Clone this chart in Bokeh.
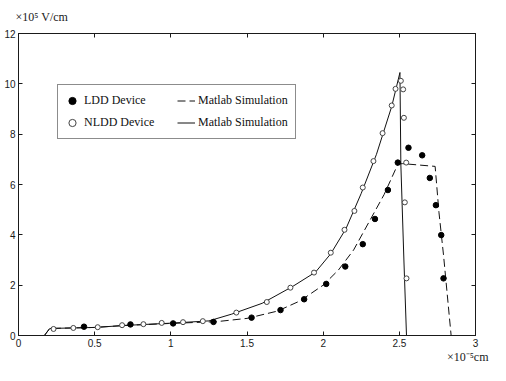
from bokeh.plotting import figure
from bokeh.models import (Range1d, LinearAxis, FixedTicker, Legend, LegendItem, Title,
                          CustomLabelingPolicy)
from bokeh.embed import file_html
from bokeh.resources import INLINE

# ---- data (x in 1e-5 cm, y in 1e5 V/cm) ----
nldd_x = [0.23, 0.36, 0.52, 0.68, 0.82, 0.94, 1.08, 1.21, 1.43, 1.63, 1.785, 1.94, 2.05,
          2.14, 2.205, 2.26, 2.33, 2.39, 2.45, 2.475, 2.51, 2.525, 2.53, 2.545, 2.536, 2.547]
nldd_y = [0.26, 0.30, 0.33, 0.41, 0.45, 0.50, 0.53, 0.57, 0.91, 1.33, 1.90, 2.50, 3.29,
          4.20, 4.95, 5.88, 6.93, 8.04, 9.14, 9.80, 10.12, 9.78, 8.65, 6.87, 5.29, 2.27]

ldd_x = [0.43, 0.735, 1.015, 1.28, 1.53, 1.72, 1.875, 2.02, 2.145, 2.26, 2.34, 2.425,
         2.49, 2.56, 2.65, 2.70, 2.74, 2.775, 2.79]
ldd_y = [0.35, 0.44, 0.48, 0.54, 0.71, 1.01, 1.44, 2.05, 2.74, 3.63, 4.63, 5.78,
         6.87, 7.46, 7.16, 6.26, 5.18, 3.99, 2.27]

nsim_x = [0.17, 0.205, 0.5, 0.7, 1.0, 1.25, 1.4, 1.6, 1.8, 1.95, 2.05, 2.15, 2.25, 2.35,
          2.45, 2.504, 2.51, 2.53, 2.547]
nsim_y = [0.0, 0.28, 0.32, 0.40, 0.49, 0.58, 0.85, 1.28, 1.95, 2.52, 3.25, 4.25, 5.65, 7.2,
          9.1, 10.45, 6.8, 3.0, 0.0]

lsim_x = [0.17, 0.205, 0.5, 0.7, 1.0, 1.3, 1.5, 1.7, 1.85, 2.0, 2.1, 2.2, 2.3, 2.4,
          2.49, 2.52, 2.735, 2.76, 2.79, 2.84]
lsim_y = [0.0, 0.28, 0.32, 0.40, 0.48, 0.55, 0.68, 0.97, 1.38, 2.0, 2.6, 3.4, 4.5, 5.6,
          6.8, 6.83, 6.72, 4.9, 3.2, 0.0]

x_ticks = [0, 0.5, 1, 1.5, 2, 2.5, 3]
x_tick_labels = {0: "0", 0.5: "0.5", 1: "1", 1.5: "1.5", 2: "2", 2.5: "2.5", 3: "3"}
y_ticks = [0, 2, 4, 6, 8, 10, 12]

y_unit_text = "\u00d710\u2075 V/cm"
x_unit_text = "\u00d710\u207b\u2075cm"

SERIF = "Liberation Serif"
SANS = "Liberation Sans"
INK = "#1a1a1a"

p = figure(width=490, height=365, output_backend="svg", toolbar_location=None,
           x_range=Range1d(0, 3), y_range=Range1d(0, 12),
           min_border_left=18, min_border_right=15, min_border_top=33, min_border_bottom=28)
p.background_fill_color = "white"
p.border_fill_color = "white"
p.outline_line_color = INK
p.outline_line_width = 1
p.xgrid.visible = False
p.ygrid.visible = False

def style_axis(ax, labels=True):
    ax.major_tick_in = 4
    ax.major_tick_out = 0
    ax.minor_tick_line_color = None
    ax.axis_line_color = INK
    ax.major_tick_line_color = INK
    if labels:
        ax.major_label_text_font = SANS
        ax.major_label_text_font_size = "10px"
        ax.major_label_text_color = INK
    else:
        ax.major_label_text_font_size = "0px"
        ax.major_label_standoff = 0
        ax.major_label_policy = CustomLabelingPolicy(code="return new Set()")

p.xaxis.ticker = FixedTicker(ticks=x_ticks)
p.xaxis.major_label_overrides = x_tick_labels
p.yaxis.ticker = FixedTicker(ticks=y_ticks)
style_axis(p.xaxis[0])
style_axis(p.yaxis[0])
p.xaxis.major_label_standoff = 3
p.yaxis.major_label_standoff = 3

top = LinearAxis(ticker=FixedTicker(ticks=x_ticks))
right = LinearAxis(ticker=FixedTicker(ticks=y_ticks))
style_axis(top, labels=False)
style_axis(right, labels=False)
p.add_layout(top, "above")
p.add_layout(right, "right")

# ---- unit labels as titles outside the frame ----
p.add_layout(Title(text=y_unit_text, align="left", vertical_align="top", offset=-3,
                   standoff=16, text_font=SERIF, text_font_size="12px",
                   text_font_style="normal", text_color=INK), "above")
p.add_layout(Title(text=x_unit_text, align="right", vertical_align="top", offset=-13,
                   standoff=0, text_font=SERIF, text_font_size="12px",
                   text_font_style="normal", text_color=INK), "below")

# ---- simulation lines ----
r_lsim = p.line(lsim_x, lsim_y, line_color="#111111", line_width=1, line_dash="8 4")
r_nsim = p.line(nsim_x, nsim_y, line_color="#111111", line_width=1)

# ---- measured points ----
r_ldd = p.scatter(ldd_x, ldd_y, marker="circle", size=5.5, fill_color="black", line_color="black")
r_nldd = p.scatter(nldd_x, nldd_y, marker="circle", size=5, fill_color="white",
                   line_color="#444444", line_width=1)

legend = Legend(items=[
    LegendItem(label="LDD Device", renderers=[r_ldd]),
    LegendItem(label="Matlab Simulation", renderers=[r_lsim]),
    LegendItem(label="NLDD Device", renderers=[r_nldd]),
    LegendItem(label="Matlab Simulation", renderers=[r_nsim]),
], orientation="horizontal", ncols=2, location=(39, 196),
   padding=5, margin=0, spacing=1, glyph_width=18, glyph_height=21, label_height=21,
   label_width=92, label_standoff=3,
   label_text_font=SERIF, label_text_font_size="12px", label_text_color="#111111",
   border_line_color=INK, border_line_width=1, background_fill_color="white",
   background_fill_alpha=1.0)
p.add_layout(legend, "center")

open("out.html", "w").write(file_html(p, INLINE))
